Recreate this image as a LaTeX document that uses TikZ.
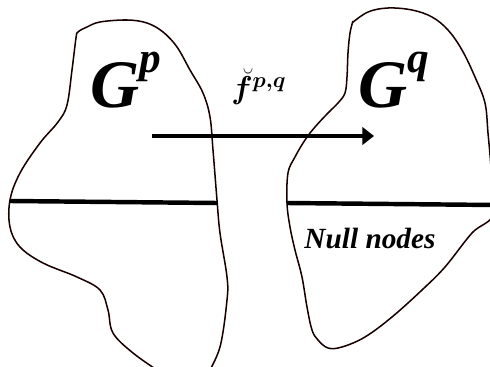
\documentclass[tikz,border=0pt]{standalone}
\usepackage{amsmath, amssymb}
\usepackage{bm}
\usepackage{fontspec}
\newfontfamily\labelfont{Liberation Serif}
\usepackage{tikz}
\usetikzlibrary{arrows.meta, calc}

\newcommand{\graphname}[1]{{\labelfont\bfseries\itshape\fontsize{58}{60}\selectfont
  G\raisebox{30pt}{\fontsize{37}{40}\selectfont #1}}}

\begin{document}
\begin{tikzpicture}[x=0.03cm, y=-0.03cm,
  blob/.style={line width=1.3pt, draw=black!90!red, line join=round},
  cut/.style={line width=3.8pt},
  maparrow/.style={line width=4.2pt, -{Triangle[length=10pt, width=15pt]}},
  graphlabel/.style={anchor=base west, inner sep=0pt}]
  \useasboundingbox (0,0) rectangle (490,367);
  \clip (0,0) rectangle (490,367);
  %--- Graph G^p ---
  \begin{scope}
    % outline, open at the bottom
    \draw[blob] plot[smooth, tension=0.6]
      coordinates {(207,375)(220,347)(227,300)(227,277)(220,233)(217,200)(213,150)
        (210,117)(203,93)(190,70)(177,47)(163,32)(147,23)(127,20)(100,22)(87,27)(78,32)
        (76,38)(72,70)(67,105)(58,122)(40,143)(20,173)(10,200)(10,227)(20,247)(43,263)
        (77,277)(100,290)(108,310)(113,333)(133,353)(160,372)};
    % separating line
    \coordinate (pl) at (10,201);
    \coordinate (pr) at (217,203);
    \draw[cut] (pl) -- (pr);
    \node[graphlabel] (gp) at (90,108) {\graphname{p}};
  \end{scope}
  %--- Graph G^q ---
  \begin{scope}
    \draw[blob] plot[smooth, tension=0.6]
      coordinates {(352,23)(368,12)(388,8)(412,10)(432,17)(448,30)(462,50)(475,77)
        (485,103)(488,133)(491,167)(494,213)(472,233)(445,267)(422,290)(392,317)
        (365,337)(342,347)(328,348)(318,340)(312,330)(307,307)(302,277)(295,250)
        (290,227)(287,203)(288,173)(295,157)(305,140)(315,127)(328,113)(338,103)
        (345,93)(347,77)(348,53)(350,33)(353,21)};
    \coordinate (ql) at (287,203);
    \coordinate (qr) at (495,205);
    \draw[cut] (ql) -- (qr);
    \node[graphlabel] (gq) at (358,108) {\graphname{q}};
    % null part
    \node[inner sep=0pt, font=\labelfont\bfseries\itshape\fontsize{25}{28}\selectfont]
      (null) at (370,239) {Null nodes};
  \end{scope}
  %--- the map ---
  \coordinate (fs) at (152,136);
  \coordinate (fe) at (374,136);
  \draw[maparrow] (fs) -- (fe);
  \node[anchor=base west, inner sep=0pt, scale=1.3, font=\huge] (fpq) at (231,99)
    {$\bm{\breve{f}^{p,q}}$};
\end{tikzpicture}
\end{document}
